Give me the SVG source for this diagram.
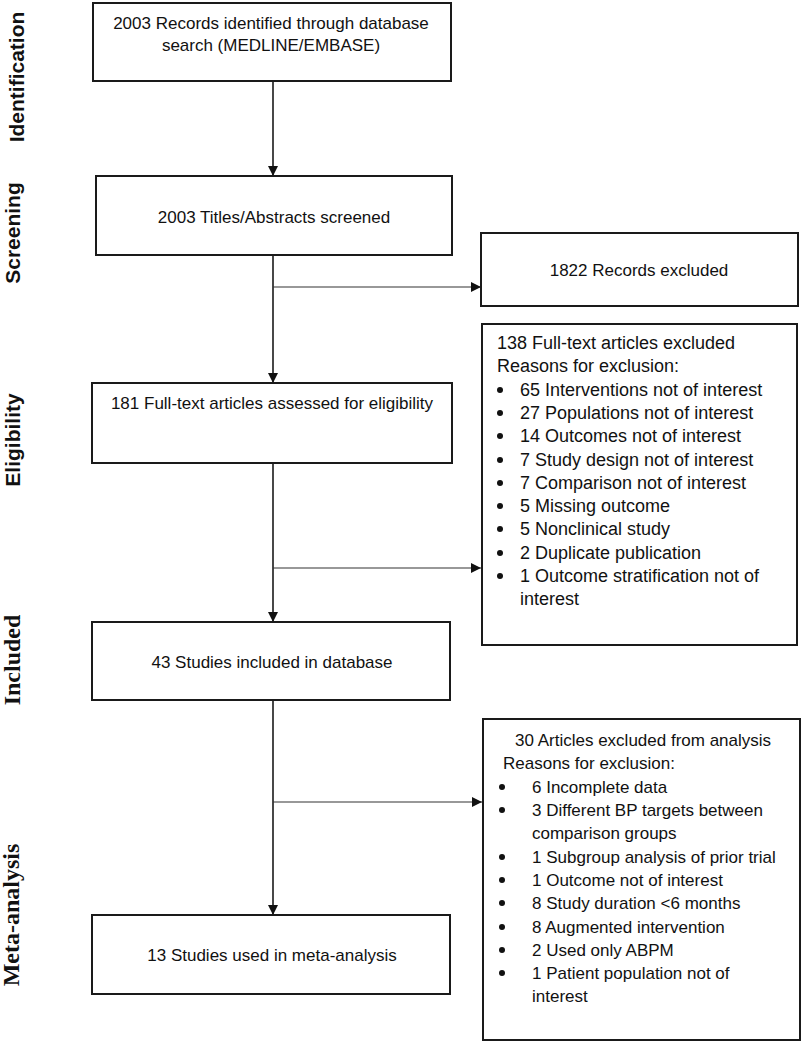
<svg xmlns="http://www.w3.org/2000/svg" width="803" height="1050" viewBox="0 0 803 1050">
<defs>
<marker id="ah" viewBox="0 0 10 10" refX="10" refY="5" markerWidth="10" markerHeight="10" markerUnits="userSpaceOnUse" orient="auto">
<path d="M0,0 L10,5 L0,10 Z" fill="#111"/>
</marker>
</defs>
<style>
.box{fill:#fff;stroke:#1a1a1a;stroke-width:2}
.t{font-family:"Liberation Sans",Arial,sans-serif;font-size:17px;fill:#111}
.t18{font-size:18px}
.c{text-anchor:middle}
.ln{stroke:#1a1a1a;stroke-width:1.6;fill:none}
.br{stroke:#333;stroke-width:1.2;fill:none}
.bul{fill:#111}
</style>
<rect width="803" height="1050" fill="#fff"/>
<g id="labels" font-weight="bold" fill="#111" text-anchor="middle">
<text font-family="'Liberation Sans', Arial, sans-serif" font-size="21" transform="translate(24,77) rotate(-90)">Identification</text>
<text font-family="'Liberation Sans', Arial, sans-serif" font-size="21" transform="translate(20,233) rotate(-90)">Screening</text>
<text font-family="'Liberation Sans', Arial, sans-serif" font-size="21" transform="translate(20,440) rotate(-90)">Eligibility</text>
<text font-family="'Liberation Serif', 'Times New Roman', serif" font-size="24" transform="translate(20,660) rotate(-90)">Included</text>
<text font-family="'Liberation Serif', 'Times New Roman', serif" font-size="24" transform="translate(19,915) rotate(-90)">Meta-analysis</text>
</g>
<g id="connectors">
<line class="ln" x1="273" y1="81" x2="273" y2="176" marker-end="url(#ah)"/>
<line class="ln" x1="273" y1="255" x2="273" y2="383" marker-end="url(#ah)"/>
<line class="br" x1="273" y1="287" x2="481" y2="287" marker-end="url(#ah)"/>
<line class="ln" x1="273" y1="463" x2="273" y2="622" marker-end="url(#ah)"/>
<line class="br" x1="273" y1="568" x2="481" y2="568" marker-end="url(#ah)"/>
<line class="ln" x1="273" y1="700" x2="273" y2="915" marker-end="url(#ah)"/>
<line class="br" x1="273" y1="802" x2="482" y2="802" marker-end="url(#ah)"/>
</g>
<g id="n1">
<rect class="box" x="93" y="3" width="358" height="78"/>
<text class="t c" x="271" y="29">2003 Records identified through database</text>
<text class="t c" x="271" y="51">search (MEDLINE/EMBASE)</text>
</g>
<g id="n2">
<rect class="box" x="96" y="176" width="356" height="79"/>
<text class="t c" x="274" y="223">2003 Titles/Abstracts screened</text>
</g>
<g id="n3">
<rect class="box" x="481" y="233" width="317" height="73"/>
<text class="t c" x="639" y="276">1822 Records excluded</text>
</g>
<g id="n4">
<rect class="box" x="92" y="383" width="360" height="80"/>
<text class="t c" x="272" y="409">181 Full-text articles assessed for eligibility</text>
</g>
<g id="n5">
<rect class="box" x="482" y="324" width="315" height="321"/>
<text class="t t18" x="497" y="349">138 Full-text articles excluded</text>
<text class="t t18" x="497" y="372">Reasons for exclusion:</text>
<circle class="bul" cx="500" cy="390" r="3"/><text class="t t18" x="520" y="396">65 Interventions not of interest</text>
<circle class="bul" cx="500" cy="413" r="3"/><text class="t t18" x="520" y="419">27 Populations not of interest</text>
<circle class="bul" cx="500" cy="436" r="3"/><text class="t t18" x="520" y="442">14 Outcomes not of interest</text>
<circle class="bul" cx="500" cy="460" r="3"/><text class="t t18" x="520" y="466">7 Study design not of interest</text>
<circle class="bul" cx="500" cy="483" r="3"/><text class="t t18" x="520" y="489">7 Comparison not of interest</text>
<circle class="bul" cx="500" cy="506" r="3"/><text class="t t18" x="520" y="512">5 Missing outcome</text>
<circle class="bul" cx="500" cy="529" r="3"/><text class="t t18" x="520" y="535">5 Nonclinical study</text>
<circle class="bul" cx="500" cy="553" r="3"/><text class="t t18" x="520" y="559">2 Duplicate publication</text>
<circle class="bul" cx="500" cy="576" r="3"/><text class="t t18" x="520" y="582">1 Outcome stratification not of</text>
<text class="t t18" x="520" y="605">interest</text>
</g>
<g id="n6">
<rect class="box" x="92" y="622" width="358" height="78"/>
<text class="t c" x="272" y="668">43 Studies included in database</text>
</g>
<g id="n7">
<rect class="box" x="483" y="719" width="317" height="321"/>
<text class="t" x="515" y="746">30 Articles excluded from analysis</text>
<text class="t" x="503" y="769">Reasons for exclusion:</text>
<circle class="bul" cx="502" cy="787" r="3"/><text class="t" x="532" y="793">6 Incomplete data</text>
<circle class="bul" cx="502" cy="810" r="3"/><text class="t" x="532" y="816">3 Different BP targets between</text>
<text class="t" x="532" y="839">comparison groups</text>
<circle class="bul" cx="502" cy="857" r="3"/><text class="t" x="532" y="863">1 Subgroup analysis of prior trial</text>
<circle class="bul" cx="502" cy="880" r="3"/><text class="t" x="532" y="886">1 Outcome not of interest</text>
<circle class="bul" cx="502" cy="903" r="3"/><text class="t" x="532" y="909">8 Study duration &lt;6 months</text>
<circle class="bul" cx="502" cy="927" r="3"/><text class="t" x="532" y="933">8 Augmented intervention</text>
<circle class="bul" cx="502" cy="950" r="3"/><text class="t" x="532" y="956">2 Used only ABPM</text>
<circle class="bul" cx="502" cy="973" r="3"/><text class="t" x="532" y="979">1 Patient population not of</text>
<text class="t" x="532" y="1002">interest</text>
</g>
<g id="n8">
<rect class="box" x="92" y="915" width="358" height="79"/>
<text class="t c" x="272" y="961">13 Studies used in meta-analysis</text>
</g>
</svg>
